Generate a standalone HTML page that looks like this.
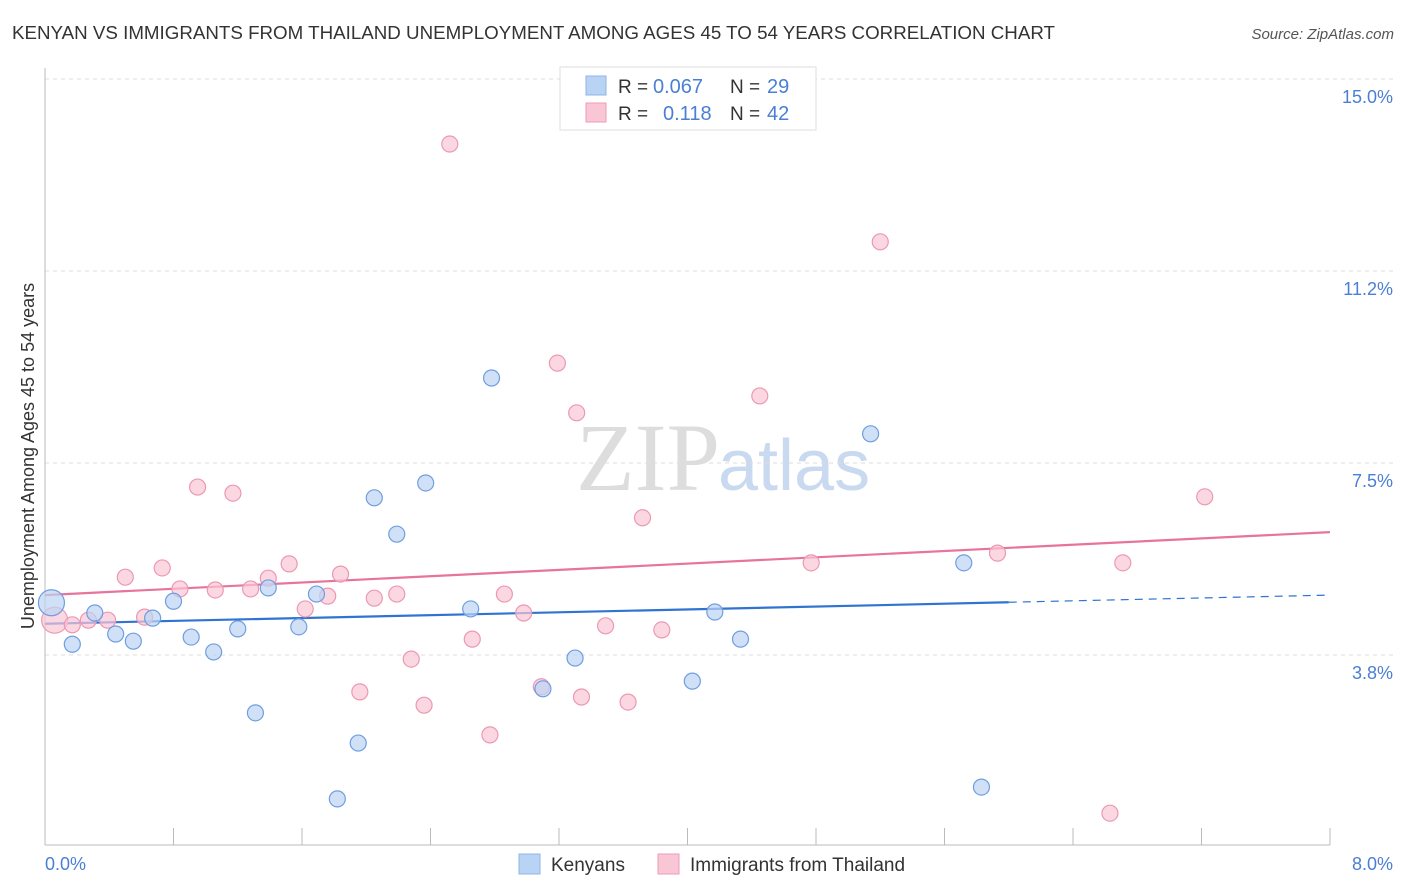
<!DOCTYPE html>
<html><head><meta charset="utf-8"><style>
body{margin:0;background:#fff;font-family:"Liberation Sans",sans-serif;}
svg{display:block}
</style></head><body>
<svg id="c" width="1406" height="892" xmlns="http://www.w3.org/2000/svg">
<text x="12" y="39" font-size="18" fill="#333" textLength="1043" lengthAdjust="spacingAndGlyphs">KENYAN VS IMMIGRANTS FROM THAILAND UNEMPLOYMENT AMONG AGES 45 TO 54 YEARS CORRELATION CHART</text>
<text x="1394" y="39" font-size="15" fill="#555" font-style="italic" text-anchor="end">Source: ZipAtlas.com</text>
<text x="720" y="490" font-size="96" fill="#ddd" text-anchor="end" font-family="Liberation Serif,serif">ZIP</text>
<text x="718" y="490" font-size="72" fill="#c9d9ef">atlas</text>
<g id="grid"></g><g id="axes"></g><g id="lines"></g><g id="pts"></g>
<text transform="translate(34,456) rotate(-90)" font-size="18" fill="#333" text-anchor="middle">Unemployment Among Ages 45 to 54 years</text>
<text x="45" y="870" font-size="18" fill="#4a7fd4">0.0%</text>
<text x="1393" y="870" font-size="18" fill="#4a7fd4" text-anchor="end">8.0%</text>
<g>
<rect x="560" y="67" width="256" height="63" fill="#fff" stroke="#ddd"/>
<rect x="586" y="76" width="20" height="19" fill="#b9d3f5" stroke="#8fb4e8"/>
<rect x="586" y="103" width="20" height="19" fill="#f9c6d6" stroke="#f09ab8"/>
<text x="618" y="93" font-size="19" fill="#333">R =</text>
<text x="653" y="93" font-size="20" fill="#4a7fd4">0.067</text>
<text x="730" y="93" font-size="19" fill="#333">N =</text>
<text x="767" y="93" font-size="20" fill="#4a7fd4">29</text>
<text x="618" y="120" font-size="19" fill="#333">R =</text>
<text x="663" y="120" font-size="20" fill="#4a7fd4">0.118</text>
<text x="730" y="120" font-size="19" fill="#333">N =</text>
<text x="767" y="120" font-size="20" fill="#4a7fd4">42</text>
</g>
<g>
<rect x="519" y="854" width="21" height="20" fill="#b9d3f5" stroke="#8fb4e8"/>
<text x="551" y="871" font-size="19" fill="#333">Kenyans</text>
<rect x="658" y="854" width="21" height="20" fill="#f9c6d6" stroke="#f09ab8"/>
<text x="690" y="871" font-size="19" fill="#333">Immigrants from Thailand</text>
</g>
</svg>
<script>
const yTicks=[15,11.25,7.5,3.75];
const yTickLabels=["15.0%","11.2%","7.5%","3.8%"];
const kenX=[0.04,0.17,0.31,0.44,0.55,0.67,0.80,0.91,1.05,1.20,1.31,1.39,1.58,1.69,1.82,1.95,2.05,2.19,2.37,2.65,2.78,3.10,3.30,4.03,4.17,4.33,5.14,5.72,5.83];
const kenY=[4.77,3.96,4.57,4.16,4.02,4.47,4.80,4.10,3.81,4.26,2.62,5.06,4.30,4.94,0.94,2.03,6.82,6.11,7.11,4.65,9.16,3.09,3.69,3.24,4.59,4.06,8.07,5.55,1.17];
const thaX=[0.06,0.17,0.27,0.39,0.50,0.62,0.73,0.84,0.95,1.06,1.17,1.28,1.39,1.52,1.62,1.76,1.84,1.96,2.05,2.19,2.28,2.36,2.52,2.66,2.77,2.86,2.98,3.09,3.19,3.31,3.34,3.49,3.63,3.72,3.84,4.45,4.77,5.20,5.93,6.63,6.71,7.22];
const thaY=[4.43,4.34,4.43,4.43,5.27,4.49,5.45,5.04,7.03,5.02,6.91,5.04,5.25,5.53,4.65,4.90,5.33,3.03,4.86,4.94,3.67,2.77,13.73,4.06,2.19,4.94,4.57,3.13,9.45,8.48,2.93,4.32,2.83,6.43,4.24,8.81,5.55,11.82,5.74,0.66,5.55,6.84];
const kenTrend=[4.36,4.92];
const thaTrend=[4.92,6.15];
const X=v=>45+v/8*1285, Y=v=>79+(15-v)*51.2;
const NS="http://www.w3.org/2000/svg";
function mk(t,a,p){const e=document.createElementNS(NS,t);for(const k in a)e.setAttribute(k,a[k]);document.getElementById(p).appendChild(e);return e;}
yTicks.forEach((v,i)=>{
 const l=mk('line',{x1:45,x2:1393,y1:Y(v),y2:Y(v),stroke:'#ddd','stroke-dasharray':'4,4'},'grid');
 
 
 const t=mk('text',{x:1393,y:Y(v)+24,'font-size':18,fill:'#4a7fd4','text-anchor':'end'},'grid');
 t.textContent=yTickLabels[i];
 
 
});
const ax=mk('line',{x1:45,x2:1330,y1:845,y2:845,stroke:'#bbb'},'axes');


const ay=mk('line',{x1:45,x2:45,y1:68,y2:845,stroke:'#bbb'},'axes');


for(let i=1;i<=10;i++){const t=mk('line',{x1:X(i*0.8),x2:X(i*0.8),y1:828,y2:845,stroke:'#bbb'},'axes');
 
 }
function trend(tr,col,name,splitAt){
 const f=v=>tr[0]+(tr[1]-tr[0])*v/8;
 const end=splitAt||8;
 const a=mk('line',{x1:X(0),y1:Y(f(0)),x2:X(end),y2:Y(f(end)),stroke:col,'stroke-width':2.2},'lines');
 
 
 if(splitAt){const b=mk('line',{x1:X(end),y1:Y(f(end)),x2:X(8),y2:Y(f(8)),stroke:col,'stroke-width':1.2,'stroke-dasharray':'8,6'},'lines');
 
 }
}
trend(thaTrend,'#e8739c','thailand-trend-line');
trend(kenTrend,'#2f74d0','kenyan-trend-line',6.0);
function pts(xs,ys,fill,stroke,name){
 xs.forEach((x,i)=>{const c=mk('circle',{cx:X(x),cy:Y(ys[i]),r:i===0?13:8,fill:fill,stroke:stroke,'stroke-width':1.2,'fill-opacity':0.7},'pts');
 
 });
}
pts(thaX,thaY,'#f9c6d6','#ec98b4','thailand-point');
pts(kenX,kenY,'#bcd4f4','#6f9ee0','kenyan-point');
</script>
</body></html>
